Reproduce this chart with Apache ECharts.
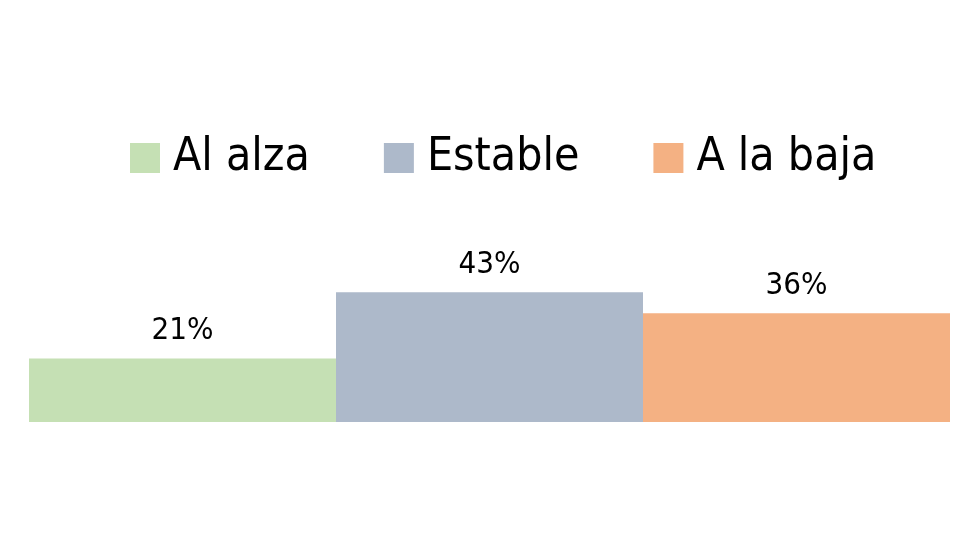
<!DOCTYPE html>
<html><head><meta charset="utf-8">
<script src="https://cdn.jsdelivr.net/npm/echarts@6/dist/echarts.min.js"></script>
<style>html,body{margin:0;padding:0;background:#fff}#c{width:980px;height:560px}</style>
</head><body><div id="c"></div>
<script>
const categories = [''];
const seriesNames = ['Al alza', 'Estable', 'A la baja'];
const seriesValues = [[21], [43], [36]];
const colors = ['#c5e0b4', '#adb9ca', '#f4b183'];
const FONT = '"Liberation Sans Narrow", "DejaVu Sans Condensed", "Open Sans", sans-serif';

const chart = echarts.init(document.getElementById('c'), null, {renderer: 'canvas'});
chart.setOption({
  animation: false,
  backgroundColor: '#ffffff',
  legend: {
    top: 130, left: 125,
    itemWidth: 30, itemHeight: 30, itemGap: 74,
    icon: 'rect',
    formatter: n => '{t|' + n + '}',
    textStyle: {fontFamily: FONT, fontSize: 46, color: '#000',
      rich: {t: {fontFamily: FONT, fontSize: 46, color: '#000', padding: [0, 0, 0, 8]}}},
    data: seriesNames
  },
  grid: {left: 29, right: 30, top: 120, bottom: 138},
  xAxis: {type: 'category', data: categories, show: false},
  yAxis: {type: 'value', min: 0, max: 100, show: false},
  series: seriesNames.map((n, i) => ({
    name: n, type: 'bar', data: seriesValues[i],
    barGap: '0%', barCategoryGap: '0%',
    itemStyle: {color: colors[i]},
    label: {show: true, position: 'top', distance: 12, formatter: '{c}%',
      fontFamily: FONT, fontSize: 31, color: '#000'}
  }))
});
</script></body></html>
